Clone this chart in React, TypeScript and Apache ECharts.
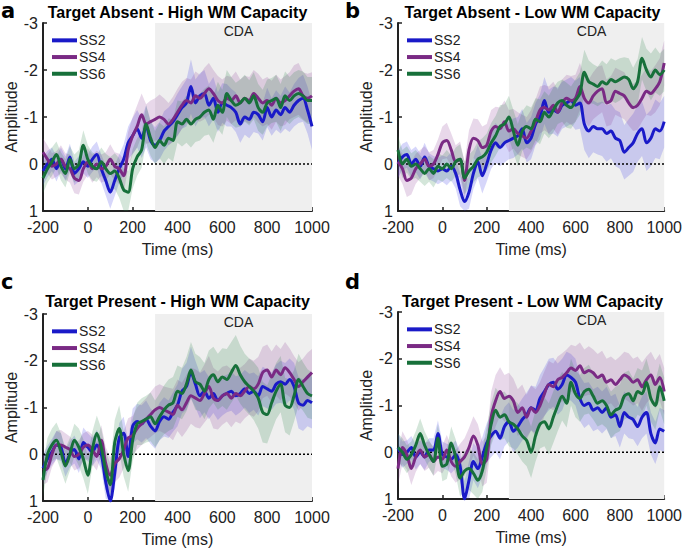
import React, { useEffect, useRef } from "react";
import * as echarts from "echarts";

// time points (ms)
const times = [-200,-180,-160,-140,-120,-100,-80,-60,-40,-20,0,20,40,60,80,100,120,140,160,180,200,220,240,260,280,300,320,340,360,380,400,420,440,460,480,500,520,540,560,580,600,620,640,660,680,700,720,740,760,780,800,820,840,860,880,900,920,940,960,980,1000];

const xTicks = [-200, 0, 200, 400, 600, 800, 1000];
const yTicks = [-3, -2, -1, 0, 1];
const setSizes = ["SS2", "SS4", "SS6"];
const panelTitles = [
  "Target Absent - High WM Capacity",
  "Target Absent - Low WM Capacity",
  "Target Present - High WM Capacity",
  "Target Present - Low WM Capacity",
];
const panelLetters = ["a", "b", "c", "d"];
const cdaWindow = [300, 1000];

// Panel a: Target Absent - High WM
const aSS2 = [0.15,0.0,-0.1,0.1,-0.1,0.1,-0.15,0.2,0.1,-0.05,0.05,-0.1,-0.2,0.1,0.35,0.6,0.35,0.1,-0.1,-0.45,-0.6,-0.75,-0.55,-0.8,-0.5,-0.4,-0.5,-0.7,-0.8,-0.9,-1.05,-1.2,-1.3,-1.65,-1.3,-1.45,-1.5,-1.25,-1.4,-1.1,-1.3,-1.25,-1.2,-1.1,-0.85,-1.0,-0.95,-1.1,-1.05,-0.9,-1.2,-1.0,-1.15,-1.05,-1.2,-1.1,-1.25,-1.35,-1.4,-1.15,-0.8];
const aSS4 = [-0.25,-0.1,0.05,0.0,-0.1,0.05,0.1,0.3,0.35,0.1,-0.05,0.1,0.0,0.1,0.05,-0.1,0.05,0.1,0.25,-0.3,-0.6,-0.8,-1.05,-0.85,-0.9,-0.95,-1.0,-0.95,-0.85,-0.95,-1.1,-1.25,-1.35,-1.3,-1.45,-1.4,-1.5,-1.6,-1.5,-1.35,-1.3,-1.4,-1.35,-1.45,-1.3,-1.4,-1.35,-1.5,-1.4,-1.3,-1.35,-1.25,-1.4,-1.3,-1.35,-1.45,-1.55,-1.6,-1.45,-1.4,-1.45];
const aSS6 = [0.3,0.1,-0.05,-0.2,0.05,0.2,-0.1,0.1,0.0,-0.4,-0.1,0.05,0.1,-0.05,0.1,0.2,0.15,0.3,0.55,0.6,0.1,-0.15,-0.3,-0.85,-0.55,-0.35,-0.5,-0.4,-0.55,-0.5,-0.9,-0.85,-0.95,-0.85,-0.95,-1.0,-1.1,-1.15,-0.95,-1.25,-1.1,-1.5,-1.35,-1.25,-1.3,-1.4,-1.3,-1.45,-1.2,-1.1,-1.3,-1.35,-1.4,-1.2,-1.45,-1.35,-1.45,-1.5,-1.45,-1.35,-1.35];
const aSE2 = [0.3,0.28,0.25,0.27,0.25,0.26,0.28,0.25,0.27,0.25,0.25,0.27,0.28,0.3,0.32,0.35,0.33,0.3,0.32,0.35,0.38,0.4,0.42,0.45,0.4,0.38,0.4,0.42,0.4,0.42,0.45,0.45,0.5,0.58,0.5,0.48,0.5,0.45,0.45,0.42,0.42,0.45,0.4,0.42,0.4,0.38,0.4,0.42,0.4,0.4,0.42,0.4,0.42,0.4,0.45,0.42,0.45,0.48,0.5,0.5,0.5];
const aSE4 = [0.3,0.3,0.28,0.27,0.3,0.28,0.3,0.32,0.3,0.28,0.28,0.3,0.28,0.3,0.3,0.32,0.3,0.32,0.35,0.38,0.4,0.45,0.45,0.42,0.45,0.45,0.48,0.45,0.45,0.48,0.5,0.5,0.48,0.5,0.52,0.5,0.55,0.55,0.5,0.52,0.5,0.48,0.5,0.52,0.5,0.48,0.5,0.5,0.52,0.5,0.5,0.52,0.5,0.5,0.52,0.5,0.55,0.55,0.5,0.52,0.5];
const aSE6 = [0.32,0.3,0.3,0.28,0.3,0.3,0.28,0.3,0.3,0.32,0.3,0.3,0.28,0.3,0.32,0.35,0.38,0.42,0.45,0.45,0.42,0.4,0.38,0.4,0.38,0.35,0.38,0.4,0.42,0.45,0.45,0.48,0.5,0.5,0.48,0.5,0.5,0.52,0.5,0.5,0.48,0.5,0.5,0.48,0.5,0.5,0.48,0.5,0.5,0.48,0.5,0.48,0.5,0.5,0.52,0.5,0.5,0.5,0.52,0.5,0.5];

// Panel b: Target Absent - Low WM
const bSS2 = [0.0,-0.15,-0.2,0.0,-0.1,0.05,-0.15,0.05,0.1,0.15,0.1,0.15,0.05,0.2,0.55,0.8,0.6,0.2,-0.05,0.25,0.0,-0.3,-0.45,-0.35,-0.45,-0.5,-0.55,-0.6,-0.75,-0.45,-0.55,-0.85,-1.0,-1.35,-1.1,-1.15,-1.1,-1.25,-1.3,-1.35,-1.25,-1.3,-0.85,-0.7,-0.8,-0.75,-0.75,-0.65,-0.7,-0.55,-0.5,-0.25,-0.35,-0.45,-0.65,-0.75,-0.45,-0.55,-0.75,-0.7,-0.9];
const bSS4 = [-0.05,0.1,0.35,0.3,0.1,0.0,-0.1,0.05,0.0,-0.2,-0.45,-0.5,-0.3,-0.05,-0.1,0.35,-0.3,-0.55,-0.5,-0.35,-0.4,-0.7,-0.8,-0.75,-0.9,-0.7,-0.75,-0.65,-0.6,-0.55,-0.7,-0.9,-1.15,-1.2,-1.15,-1.25,-1.1,-1.3,-1.4,-1.35,-1.4,-1.65,-1.4,-1.3,-1.45,-1.55,-1.6,-1.3,-1.35,-1.55,-1.5,-1.45,-1.3,-1.2,-1.25,-1.4,-1.55,-1.5,-1.6,-1.75,-2.15];
const bSS6 = [-0.3,0.0,-0.1,0.05,0.0,0.1,0.2,0.1,0.2,0.05,0.1,0.0,0.1,-0.05,-0.1,0.3,0.15,0.05,-0.1,-0.15,-0.25,-0.45,-0.6,-0.8,-0.85,-1.0,-0.7,-0.4,-0.7,-0.8,-0.75,-0.95,-0.9,-1.1,-1.0,-1.15,-1.3,-1.35,-1.25,-1.2,-1.35,-1.5,-1.95,-1.75,-1.7,-1.65,-1.75,-1.7,-1.8,-1.75,-1.8,-1.85,-1.8,-1.6,-1.75,-2.25,-2.0,-1.85,-2.0,-1.9,-2.0];
const bSE2 = [0.3,0.28,0.28,0.3,0.27,0.28,0.3,0.28,0.27,0.28,0.28,0.3,0.3,0.32,0.35,0.38,0.35,0.33,0.35,0.38,0.38,0.4,0.42,0.4,0.42,0.4,0.42,0.4,0.42,0.42,0.45,0.45,0.48,0.5,0.48,0.5,0.52,0.5,0.5,0.5,0.52,0.55,0.55,0.58,0.55,0.55,0.58,0.6,0.58,0.6,0.6,0.58,0.6,0.62,0.6,0.58,0.6,0.6,0.62,0.6,0.55];
const bSE4 = [0.3,0.32,0.35,0.35,0.32,0.3,0.28,0.3,0.3,0.32,0.35,0.38,0.35,0.35,0.38,0.4,0.42,0.42,0.45,0.45,0.45,0.45,0.42,0.45,0.45,0.45,0.42,0.45,0.45,0.45,0.45,0.48,0.5,0.48,0.5,0.5,0.48,0.5,0.5,0.52,0.5,0.5,0.48,0.5,0.5,0.52,0.5,0.5,0.52,0.5,0.5,0.5,0.48,0.5,0.52,0.5,0.5,0.48,0.5,0.5,0.48];
const bSE6 = [0.3,0.3,0.28,0.28,0.3,0.28,0.27,0.28,0.3,0.28,0.28,0.3,0.28,0.3,0.32,0.35,0.35,0.35,0.38,0.4,0.4,0.42,0.42,0.45,0.42,0.45,0.45,0.45,0.42,0.45,0.45,0.45,0.48,0.45,0.45,0.48,0.45,0.45,0.48,0.45,0.45,0.45,0.48,0.45,0.42,0.42,0.45,0.42,0.45,0.45,0.45,0.42,0.45,0.45,0.48,0.45,0.45,0.5,0.48,0.45,0.45];

// Panel c: Target Present - High WM
const cSS2 = [0.3,0.1,-0.05,-0.2,-0.15,0.2,0.0,-0.1,0.1,-0.25,-0.15,-0.05,-0.2,0.0,0.6,1.0,0.4,-0.35,-0.45,0.05,-0.6,-0.7,-0.65,-0.75,-0.6,-0.5,-0.7,-0.8,-0.75,-0.9,-1.05,-1.35,-1.45,-1.75,-1.5,-1.25,-1.35,-1.2,-1.3,-1.15,-1.25,-1.3,-1.35,-1.25,-1.3,-1.4,-1.3,-1.35,-1.25,-1.45,-1.4,-1.35,-1.5,-1.55,-1.5,-1.6,-1.45,-1.1,-1.05,-1.15,-1.1];
const cSS4 = [0.35,0.3,0.0,-0.2,-0.2,-0.15,-0.1,0.05,0.0,-0.15,-0.2,-0.1,0.05,-0.3,0.2,0.45,0.2,0.1,-0.1,-0.35,-0.4,-0.55,-0.65,-0.75,-0.85,-0.95,-1.0,-0.95,-0.9,-0.85,-1.05,-0.95,-1.1,-1.25,-1.2,-1.15,-1.3,-1.45,-1.2,-1.15,-1.25,-1.3,-1.2,-1.3,-1.25,-1.35,-1.45,-1.4,-1.5,-1.75,-1.8,-1.65,-1.8,-1.7,-1.85,-1.75,-1.6,-1.45,-1.55,-1.65,-1.75];
const cSS6 = [0.55,0.0,-0.2,-0.3,-0.05,0.25,0.0,-0.3,-0.15,0.1,0.45,-0.1,-0.45,-0.15,0.35,0.65,-0.25,-0.55,0.0,0.35,-0.3,-0.65,-0.7,-0.75,-0.8,-0.65,-0.8,-0.95,-1.05,-1.1,-1.35,-1.3,-1.5,-1.8,-1.55,-1.5,-1.35,-1.6,-1.7,-1.55,-1.65,-1.6,-1.75,-1.9,-1.7,-1.55,-1.45,-1.35,-1.2,-0.9,-0.85,-1.1,-1.35,-1.5,-1.05,-1.0,-1.25,-1.6,-1.45,-1.3,-1.25];
const cSE2 = [0.3,0.28,0.28,0.3,0.3,0.28,0.28,0.3,0.3,0.32,0.3,0.3,0.32,0.32,0.35,0.38,0.35,0.32,0.35,0.35,0.38,0.38,0.4,0.4,0.38,0.38,0.4,0.42,0.4,0.42,0.45,0.48,0.5,0.55,0.5,0.48,0.45,0.45,0.42,0.42,0.42,0.4,0.42,0.42,0.4,0.4,0.42,0.4,0.42,0.42,0.42,0.4,0.42,0.45,0.45,0.45,0.5,0.55,0.55,0.55,0.55];
const cSE4 = [0.3,0.3,0.28,0.3,0.32,0.3,0.28,0.3,0.3,0.3,0.3,0.32,0.3,0.32,0.35,0.38,0.4,0.4,0.4,0.42,0.42,0.45,0.45,0.45,0.48,0.5,0.5,0.5,0.52,0.55,0.55,0.58,0.6,0.6,0.62,0.6,0.62,0.65,0.65,0.62,0.62,0.6,0.62,0.6,0.6,0.58,0.6,0.6,0.58,0.55,0.55,0.55,0.55,0.55,0.55,0.52,0.5,0.52,0.5,0.52,0.5];
const cSE6 = [0.35,0.35,0.35,0.38,0.4,0.38,0.35,0.35,0.4,0.42,0.4,0.38,0.38,0.4,0.42,0.45,0.48,0.5,0.48,0.45,0.45,0.45,0.5,0.5,0.52,0.5,0.5,0.52,0.55,0.55,0.55,0.55,0.58,0.6,0.6,0.58,0.6,0.62,0.6,0.6,0.62,0.65,0.65,0.65,0.62,0.6,0.6,0.62,0.65,0.65,0.62,0.6,0.6,0.6,0.58,0.6,0.55,0.55,0.52,0.52,0.5];

// Panel d: Target Present - Low WM
const dSS2 = [-0.1,0.05,0.0,-0.1,0.1,0.0,0.1,-0.05,-0.05,-0.4,0.05,0.1,0.15,0.05,0.3,1.0,0.6,0.2,0.35,0.1,-0.2,-0.35,-0.45,-0.3,-0.55,-0.65,-0.45,-0.55,-0.7,-0.8,-0.95,-0.9,-1.15,-1.3,-1.45,-1.5,-1.35,-1.45,-1.65,-1.6,-1.5,-1.15,-1.0,-1.05,-0.9,-0.95,-0.85,-0.95,-0.75,-0.8,-0.55,-0.85,-0.75,-0.7,-0.55,-0.75,-0.85,-0.4,-0.2,-0.5,-0.45];
const dSS4 = [0.35,-0.1,0.05,0.35,0.1,-0.05,0.1,0.05,0.2,0.1,0.15,-0.05,0.2,0.3,0.2,0.1,-0.1,-0.35,-0.15,0.25,0.15,-0.75,-1.1,-1.3,-1.15,-1.2,-1.1,-0.85,-0.95,-0.75,-0.95,-0.85,-1.0,-1.25,-1.45,-1.4,-1.55,-1.6,-1.7,-1.8,-1.75,-1.85,-1.7,-1.75,-1.7,-1.6,-1.65,-1.5,-1.55,-1.45,-1.55,-1.65,-1.6,-1.5,-1.55,-1.4,-1.55,-1.65,-1.45,-1.6,-1.3];
const dSS6 = [-0.1,0.0,0.15,0.05,-0.15,-0.4,-0.15,0.05,0.2,-0.3,0.3,0.25,-0.2,0.1,0.55,0.4,0.35,0.45,0.6,0.4,-0.1,-0.6,-0.9,-0.75,-0.8,-0.65,-0.6,-0.5,-0.35,-0.25,0.0,-0.35,-0.6,-0.65,-0.5,-0.75,-1.0,-1.2,-1.05,-1.5,-1.25,-1.15,-1.3,-1.35,-1.2,-1.05,-1.1,-1.0,-0.8,-0.9,-0.95,-1.2,-1.25,-1.1,-1.3,-1.25,-1.5,-1.15,-1.0,-1.4,-1.1];
const dSE2 = [0.3,0.28,0.25,0.25,0.27,0.25,0.28,0.25,0.25,0.28,0.28,0.28,0.3,0.3,0.32,0.38,0.4,0.4,0.42,0.42,0.42,0.45,0.45,0.45,0.42,0.42,0.45,0.45,0.45,0.48,0.48,0.5,0.5,0.52,0.55,0.52,0.55,0.55,0.5,0.5,0.5,0.48,0.48,0.45,0.45,0.45,0.45,0.45,0.45,0.45,0.45,0.45,0.45,0.42,0.42,0.45,0.45,0.45,0.45,0.45,0.45];
const dSE4 = [0.35,0.35,0.32,0.35,0.32,0.3,0.3,0.28,0.3,0.3,0.3,0.32,0.32,0.35,0.38,0.4,0.42,0.42,0.45,0.48,0.5,0.55,0.55,0.52,0.5,0.5,0.48,0.5,0.5,0.48,0.48,0.5,0.5,0.48,0.5,0.5,0.5,0.52,0.5,0.5,0.52,0.5,0.5,0.52,0.5,0.5,0.52,0.5,0.5,0.52,0.5,0.5,0.52,0.5,0.5,0.52,0.5,0.5,0.52,0.5,0.5];
const dSE6 = [0.3,0.3,0.3,0.28,0.3,0.32,0.3,0.3,0.3,0.3,0.32,0.32,0.35,0.38,0.4,0.42,0.45,0.45,0.45,0.45,0.45,0.45,0.48,0.5,0.5,0.52,0.52,0.55,0.55,0.55,0.55,0.55,0.52,0.52,0.55,0.55,0.55,0.52,0.52,0.5,0.5,0.5,0.5,0.52,0.5,0.5,0.5,0.48,0.5,0.5,0.5,0.5,0.5,0.48,0.5,0.5,0.5,0.5,0.52,0.5,0.5];

const panelMeans = [
  [aSS2, aSS4, aSS6],
  [bSS2, bSS4, bSS6],
  [cSS2, cSS4, cSS6],
  [dSS2, dSS4, dSS6],
];
const panelErrors = [
  [aSE2, aSE4, aSE6],
  [bSE2, bSE4, bSE6],
  [cSE2, cSE4, cSE6],
  [dSE2, dSE4, dSE6],
];

const LINE_COLORS = ["#1a1ac8", "#7a2a84", "#17703a"];
const BAND_COLORS = ["rgba(50,50,230,0.2)", "rgba(140,60,150,0.2)", "rgba(40,130,70,0.2)"];
const FONT = "Liberation Sans, Arial, Helvetica, sans-serif";
const AXIS_COLOR = "#222";

const GRIDS = [
  { left: 43, top: 23, width: 269, height: 188 },
  { left: 398, top: 23, width: 269, height: 188 },
  { left: 43, top: 314, width: 269, height: 187 },
  { left: 398, top: 312, width: 269, height: 187 },
];
const TITLE_Y = [12.5, 12.5, 301.5, 301];
const LETTER_POS = [
  { x: 1, y: 11 },
  { x: 345, y: 11 },
  { x: 1, y: 282 },
  { x: 345, y: 282 },
];

const clampY = (v: number) => Math.max(yTicks[0], Math.min(yTicks[yTicks.length - 1], v));

function buildOption() {
  const grid: any[] = [];
  const xAxis: any[] = [];
  const yAxis: any[] = [];
  const series: any[] = [];
  const legend: any[] = [];
  const graphic: any[] = [];

  GRIDS.forEach((g, p) => {
    grid.push({ ...g, containLabel: false });
    xAxis.push({
      gridIndex: p,
      type: "value",
      min: xTicks[0],
      max: xTicks[xTicks.length - 1],
      interval: 200,
      name: "Time (ms)",
      nameLocation: "middle",
      nameGap: 30,
      nameTextStyle: { fontSize: 16, color: AXIS_COLOR, fontFamily: FONT },
      axisLine: { show: true, onZero: false, lineStyle: { color: AXIS_COLOR, width: 2 } },
      axisTick: { show: true, inside: true, length: 4, lineStyle: { color: AXIS_COLOR, width: 1.5 } },
      axisLabel: {
        fontSize: 16,
        color: AXIS_COLOR,
        fontFamily: FONT,
        margin: 8,
        formatter: (v: number) => String(v),
      },
      splitLine: { show: false },
    });
    yAxis.push({
      gridIndex: p,
      type: "value",
      inverse: true,
      min: yTicks[0],
      max: yTicks[yTicks.length - 1],
      interval: 1,
      name: "Amplitude",
      nameLocation: "middle",
      nameGap: 24,
      nameTextStyle: { fontSize: 16, color: AXIS_COLOR, fontFamily: FONT },
      axisLine: { show: true, onZero: false, lineStyle: { color: AXIS_COLOR, width: 2 } },
      axisTick: { show: true, inside: true, length: 4, lineStyle: { color: AXIS_COLOR, width: 1.5 } },
      axisLabel: {
        fontSize: 16,
        color: AXIS_COLOR,
        fontFamily: FONT,
        margin: 5,
        formatter: (v: number) => String(v),
      },
      splitLine: { show: false },
    });

    // CDA shaded window (host series)
    series.push({
      type: "line",
      xAxisIndex: p,
      yAxisIndex: p,
      data: [[cdaWindow[0], yTicks[0]], [cdaWindow[1], yTicks[0]]],
      symbol: "none",
      silent: true,
      lineStyle: { opacity: 0 },
      z: 1,
      markArea: {
        silent: true,
        itemStyle: { color: "#efefef" },
        label: {
          show: true,
          position: "insideTop",
          distance: 1,
          offset: [5, 0],
          formatter: "CDA",
          color: AXIS_COLOR,
          fontSize: 14,
          fontFamily: FONT,
        },
        data: [[{ xAxis: cdaWindow[0] }, { xAxis: cdaWindow[1] }]],
      },
    });

    // confidence bands (custom polygons)
    panelMeans[p].forEach((vals, k) => {
      const se = panelErrors[p][k];
      const lo = times.map((t, i) => vals[i] - se[i]);
      const hi = times.map((t, i) => vals[i] + se[i]);
      const color = BAND_COLORS[k];
      series.push({
        type: "custom",
        name: `${setSizes[k]} band ${p}`,
        xAxisIndex: p,
        yAxisIndex: p,
        silent: true,
        z: 2,
        data: times.map((t, i) => [t, lo[i], hi[i]]),
        encode: { x: 0, y: [1, 2] },
        renderItem: (params: any, api: any) => {
          if (params.dataIndex !== 0) return null;
          const top = times.map((t, i) => api.coord([t, clampY(hi[i])]));
          const bottom = times.map((t, i) => api.coord([t, clampY(lo[i])])).reverse();
          return {
            type: "polygon",
            shape: { points: top.concat(bottom) },
            style: { fill: color, stroke: "none" },
          };
        },
      });
    });

    // zero line
    series.push({
      type: "line",
      xAxisIndex: p,
      yAxisIndex: p,
      data: [[xTicks[0], 0], [xTicks[xTicks.length - 1], 0]],
      symbol: "none",
      silent: true,
      lineStyle: { color: "#000", width: 1.5, type: [2, 2] },
      z: 3,
    });

    // mean lines
    panelMeans[p].forEach((vals, k) => {
      series.push({
        type: "line",
        name: setSizes[k],
        xAxisIndex: p,
        yAxisIndex: p,
        data: times.map((t, i) => [t, vals[i]]),
        symbol: "none",
        smooth: 0.3,
        color: LINE_COLORS[k],
        lineStyle: { color: LINE_COLORS[k], width: 3 },
        z: 4,
      });
    });

    legend.push({
      data: setSizes,
      orient: "vertical",
      left: g.left + 9,
      top: g.top + 9,
      padding: 0,
      itemGap: 0,
      itemWidth: 25,
      itemHeight: 4,
      icon: "rect",
      selectedMode: false,
      textStyle: { fontSize: 14, color: AXIS_COLOR, fontFamily: FONT, lineHeight: 16.7, padding: [0, 0, 0, -3] },
    });

    graphic.push({
      type: "text",
      x: g.left + g.width / 2,
      y: TITLE_Y[p],
      style: {
        text: panelTitles[p],
        font: `bold 16px ${FONT}`,
        fill: "#000",
        align: "center",
        verticalAlign: "middle",
        textAlign: "center",
        textVerticalAlign: "middle",
      },
    });
    graphic.push({
      type: "text",
      x: LETTER_POS[p].x,
      y: LETTER_POS[p].y,
      style: {
        text: panelLetters[p],
        font: `bold 21px DejaVu Sans, ${FONT}`,
        fill: "#000",
        align: "left",
        verticalAlign: "middle",
        textAlign: "left",
        textVerticalAlign: "middle",
      },
    });
  });

  return {
    animation: false,
    backgroundColor: "#fff",
    grid,
    xAxis,
    yAxis,
    legend,
    series,
    graphic,
  };
}

export default function App() {
  const ref = useRef<HTMLDivElement>(null);
  useEffect(() => {
    if (!ref.current) return;
    const chart = echarts.init(ref.current, null, { renderer: "svg" });
    chart.setOption(buildOption() as any);
    return () => chart.dispose();
  }, []);
  return (
    <div
      ref={ref}
      style={{ position: "fixed", left: 0, top: 0, width: 685, height: 551, background: "#fff" }}
    />
  );
}
